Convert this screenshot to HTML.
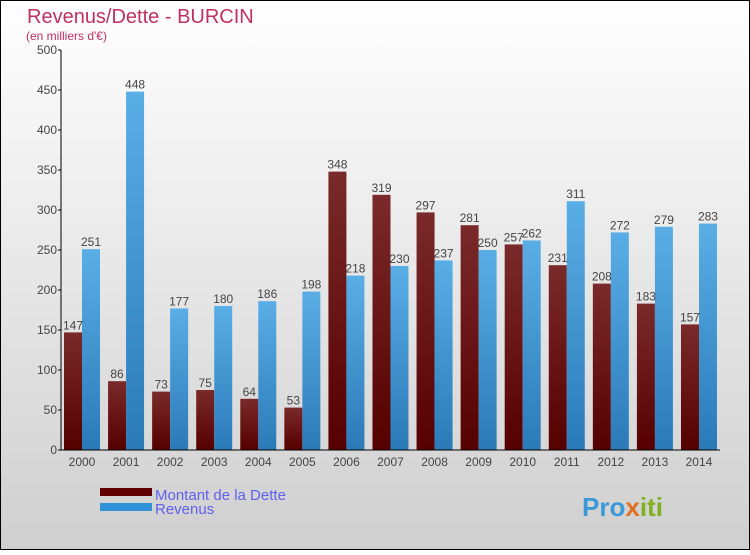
<!DOCTYPE html>
<html><head><meta charset="utf-8"><style>
body{margin:0}
#c{width:750px;height:550px;position:relative;font-family:"Liberation Sans",sans-serif;}
</style></head><body>
<div id="c">
<svg id="s" width="750" height="550" xmlns="http://www.w3.org/2000/svg">
<defs>
<linearGradient id="bg" x1="0" y1="0" x2="0" y2="1"><stop offset="0" stop-color="#ffffff"/><stop offset="1" stop-color="#cfcfcf"/></linearGradient>
<linearGradient id="gd" x1="0" y1="0" x2="0" y2="1"><stop offset="0" stop-color="#7a2a2a"/><stop offset="1" stop-color="#560000"/></linearGradient>
<linearGradient id="gr" x1="0" y1="0" x2="0" y2="1"><stop offset="0" stop-color="#5aaee6"/><stop offset="1" stop-color="#2a7ab8"/></linearGradient>
</defs>
<rect x="0.5" y="0.5" width="749" height="549" fill="url(#bg)" stroke="#000"/>
<text x="27" y="23" font-size="20" fill="#c03060">Revenus/Dette - BURCIN</text>
<text x="26" y="40" font-size="12" fill="#c03060">(en milliers d'€)</text>
<g id="plot"></g>
<rect x="100" y="488" width="52" height="8" fill="#600000"/>
<rect x="100" y="503" width="52" height="8" fill="#3090d8"/>
<text x="155" y="500" font-size="15" fill="#6060f0">Montant de la Dette</text>
<text x="155" y="514" font-size="15" fill="#6060f0">Revenus</text>
<text x="582" y="516" font-size="26" font-weight="bold" fill="#3a9ad8">Pro<tspan fill="#e07020">x</tspan><tspan fill="#80b020">iti</tspan></text>
</svg>
<script>
const years=["2000","2001","2002","2003","2004","2005","2006","2007","2008","2009","2010","2011","2012","2013","2014"];
const dette=[147,86,73,75,64,53,348,319,297,281,257,231,208,183,157];
const revenus=[251,448,177,180,186,198,218,230,237,250,262,311,272,279,283];
const yTicks=[0,50,100,150,200,250,300,350,400,450,500];
const NS="http://www.w3.org/2000/svg";
const g=document.getElementById('plot');
const y=v=>450-v*0.8;
const xc=i=>82+i*44.07;
function mk(t,a){const e=document.createElementNS(NS,t);for(const k in a)e.setAttribute(k,a[k]);g.appendChild(e);return e;}
years.forEach((yr,i)=>{
 let r=mk('rect',{x:xc(i)-18,y:y(dette[i]),width:18,height:dette[i]*0.8,fill:'url(#gd)'});
 
 
 r=mk('rect',{x:xc(i),y:y(revenus[i]),width:18,height:revenus[i]*0.8,fill:'url(#gr)'});
 
 
 let t=mk('text',{x:xc(i)-9,y:y(dette[i])-3,'font-size':12,fill:'#444','text-anchor':'middle'});t.textContent=dette[i];
 
 
 t=mk('text',{x:xc(i)+9,y:y(revenus[i])-3,'font-size':12,fill:'#444','text-anchor':'middle'});t.textContent=revenus[i];
 
 
 t=mk('text',{x:xc(i),y:466,'font-size':12,fill:'#444','text-anchor':'middle'});t.textContent=yr;
 
 
});
yTicks.forEach(v=>{
 const l=mk('line',{x1:58,x2:61,y1:y(v),y2:y(v),stroke:'#000'});
 
 
 const t=mk('text',{x:57,y:y(v)+4,'font-size':12,fill:'#444','text-anchor':'end'});t.textContent=v;
 
 
});
let a=mk('line',{x1:61,x2:61,y1:50,y2:450,stroke:'#000'});


a=mk('line',{x1:61,x2:720,y1:450,y2:450,stroke:'#000'});


</script>
</div>
</body></html>
